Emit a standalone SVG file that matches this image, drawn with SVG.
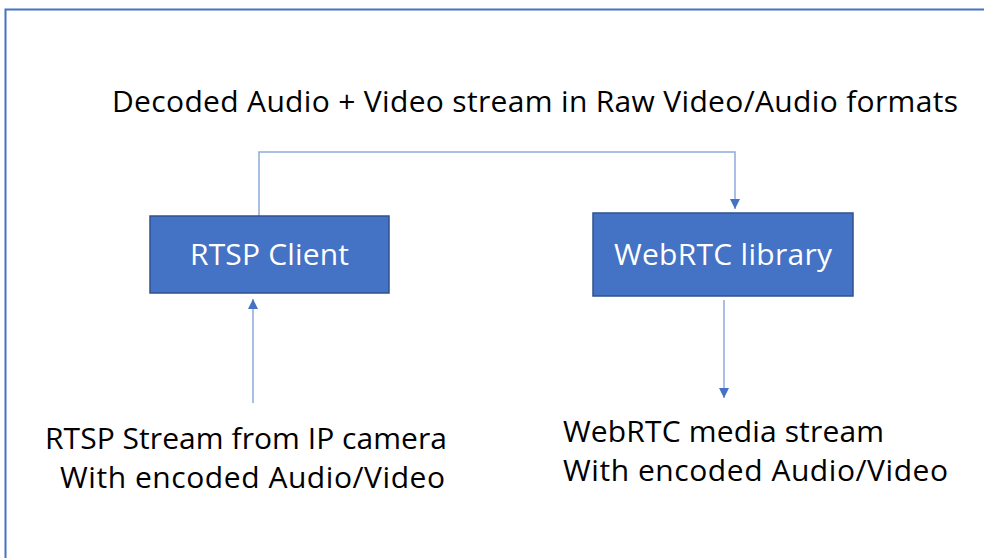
<svg xmlns="http://www.w3.org/2000/svg" width="984" height="558" viewBox="0 0 984 558">
<defs>
<style>
.t{font-family:"Open Sans","Noto Sans","DejaVu Sans",sans-serif;font-size:30px;fill:#000}
.n{font-family:"Open Sans","Noto Sans","DejaVu Sans",sans-serif;font-size:30px;fill:#fff}
.box{fill:#4472C4;stroke:#2F528F;stroke-width:1.5}
.c{stroke:#8FAADC;stroke-width:1.5;fill:none}
</style>
<marker id="ah" viewBox="0 0 10 10" refX="10" refY="5" markerWidth="10" markerHeight="10" markerUnits="userSpaceOnUse" orient="auto">
<path d="M0,0 L10,5 L0,10 z" fill="#4472C4"/>
</marker>
</defs>
<rect width="984" height="558" fill="#fff"/>
<path d="M5.5,558 V9.5 H984" fill="none" stroke="#4472C4" stroke-width="2"/>
<g id="connectors">
<path class="c" d="M259,216 V152 H735 V209" marker-end="url(#ah)"/>
<path class="c" d="M253,403 V299" marker-end="url(#ah)"/>
<path class="c" d="M724,300 V398" marker-end="url(#ah)"/>
</g>
<g id="rtsp-client">
<rect class="box" x="150" y="216" width="239" height="77"/>
<text class="n" x="190" y="265" textLength="159" lengthAdjust="spacing">RTSP Client</text>
</g>
<g id="webrtc-library">
<rect class="box" x="593" y="213" width="260" height="83"/>
<text class="n" x="614" y="265" textLength="218" lengthAdjust="spacing">WebRTC library</text>
</g>
<g id="label-top">
<text class="t" x="112" y="112" textLength="846" lengthAdjust="spacing">Decoded Audio + Video stream in Raw Video/Audio formats</text>
</g>
<g id="label-source">
<text class="t" x="45" y="449" textLength="402" lengthAdjust="spacing">RTSP Stream from IP camera</text>
<text class="t" x="60" y="488" textLength="385" lengthAdjust="spacing">With encoded Audio/Video</text>
</g>
<g id="label-output">
<text class="t" x="563" y="442" textLength="321" lengthAdjust="spacing">WebRTC media stream</text>
<text class="t" x="563" y="481" textLength="385" lengthAdjust="spacing">With encoded Audio/Video</text>
</g>
</svg>
